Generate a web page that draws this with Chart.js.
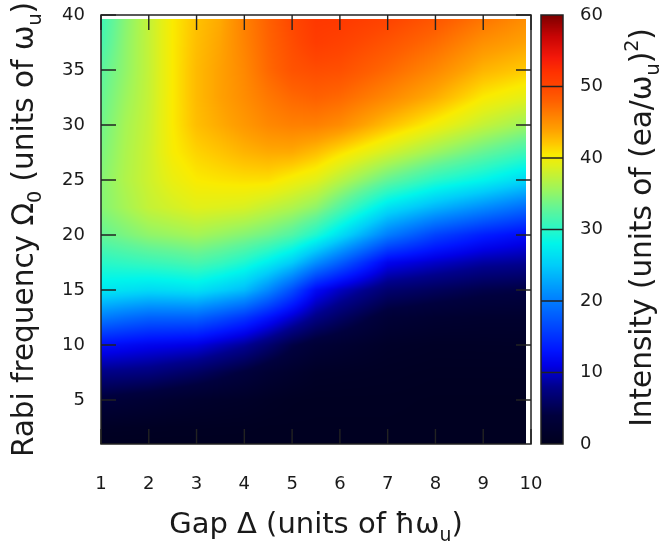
<!DOCTYPE html>
<html>
<head>
<meta charset="utf-8">
<script src="https://cdn.jsdelivr.net/npm/chart.js@4.4.1/dist/chart.umd.min.js"></script>
<style>
  html, body { margin: 0; padding: 0; background: #fff; }
  #wrap { width: 659px; height: 545px; }
</style>
</head>
<body>
<div id="wrap"><canvas id="chart" width="659" height="545"></canvas></div>
<script>
// Grid of the map: gap (columns) and Rabi frequency (rows)
const gap = [1, 1.5, 2, 2.5, 3, 3.5, 4, 4.5, 5, 5.5, 6, 7, 8, 9, 10];
const rabi = [1, 2.5, 5, 7.5, 10, 12.5, 15, 17.5, 20, 22.5, 25, 27.5, 30, 32.5, 35, 37.5, 40];

// Intensity, one row per Rabi frequency (bottom to top)
const intensity = [
  [0.3, 0.3, 0.3, 0.3, 0.3, 0.3, 0.3, 0.3, 0.3, 0.3, 0.3, 0.3, 0.3, 0.3, 0.3],
  [0.9, 0.8, 0.7, 0.6, 0.6, 0.55, 0.5, 0.4, 0.4, 0.4, 0.4, 0.4, 0.35, 0.35, 0.35],
  [3.5, 3.1, 2.7, 2.2, 1.8, 1.5, 1.3, 0.9, 0.6, 0.5, 0.5, 0.5, 0.4, 0.4, 0.4],
  [7.7, 7.5, 7.2, 6.5, 5.8, 4.8, 3.8, 2.6, 1.8, 1.1, 1, 0.8, 0.6, 0.6, 0.6],
  [12.5, 12, 11.5, 11.2, 10.8, 9.6, 8.4, 6.5, 4.4, 3, 2.4, 1.3, 1, 1.05, 1.1],
  [20, 19, 18.2, 18.2, 18.2, 16.8, 15.2, 12.8, 10.2, 7.6, 5.9, 3, 2.3, 2, 2],
  [27, 26.5, 26, 26.2, 26.5, 25.3, 24, 20.8, 16.8, 12, 9.8, 6.5, 5.5, 4.6, 4.2],
  [30, 30.4, 30.8, 31.2, 31.7, 30.8, 29.5, 27.5, 25, 21.2, 18, 11.5, 10, 8.7, 8.2],
  [33, 34, 35, 35.5, 36, 35.3, 34.5, 33.5, 32, 29.5, 26.3, 20, 16, 13.6, 12],
  [34.5, 36, 37.5, 38.3, 39, 38.8, 38.5, 37.5, 36.5, 35, 32.2, 26.5, 23.5, 21, 18.5],
  [34.5, 36.5, 38, 39.5, 40.5, 40.8, 41, 41, 40, 39, 37, 33, 30, 28, 25.5],
  [34, 36.3, 38, 40.3, 41.5, 42.2, 43, 43.5, 43.5, 42.5, 41, 38.2, 35.5, 33, 30.7],
  [33.5, 36, 37.8, 40.5, 42.5, 43.5, 44.5, 45.5, 46, 46, 45.3, 42.5, 40, 37.5, 35.4],
  [33, 35.5, 37.6, 40.5, 42.7, 44, 45.2, 46.5, 47.5, 48, 47.5, 45.5, 43.3, 40.5, 39],
  [32.5, 35, 37.5, 40.5, 42.7, 44, 45.5, 47.5, 49, 49.5, 49.3, 47.5, 45.5, 43, 41.8],
  [31.5, 34.8, 37.5, 40.5, 42.5, 43.8, 45.8, 47.8, 49.5, 51, 50.5, 49, 47.3, 45, 43.8],
  [31, 34.5, 37.5, 40.5, 42.3, 43.5, 46, 48, 50, 51.5, 51.5, 50.5, 49, 47, 45.2]
];

// the image stops a little short of the frame
const gapExtent = [1, 9.9];
const rabiExtent = [1, 39.6];

const gapTicks = [1, 2, 3, 4, 5, 6, 7, 8, 9, 10];
const rabiTicks = [5, 10, 15, 20, 25, 30, 35, 40];
const intensityTicks = [0, 10, 20, 30, 40, 50, 60];

const xTitle = [{ text: 'Gap Δ (units of ħω' }, { text: 'u', sub: true }, { text: ')' }];
const yTitle = [{ text: 'Rabi frequency Ω' }, { text: '0', sub: true }, { text: ' (units of ω' }, { text: 'u', sub: true }, { text: ')' }];
const cbTitle = [{ text: 'Intensity (units of (ea/ω' }, { text: 'u', sub: true }, { text: ')' }, { text: '2', sup: true }, { text: ')' }];

// jet-like palette of the colour box
const cmapStops = [0, 4, 8, 11, 13, 17, 21, 25, 28, 30, 33, 36, 39, 40.5, 42, 44, 46, 48, 50, 52, 54, 57, 60];
const cmapColors = [
  [0, 0, 30], [0, 0, 62], [0, 0, 140], [0, 0, 230], [0, 20, 255], [0, 80, 255],
  [0, 140, 255], [0, 205, 250], [0, 245, 235], [40, 248, 200], [100, 245, 150],
  [165, 245, 85], [225, 240, 25], [250, 235, 0], [255, 200, 0], [255, 160, 0],
  [255, 128, 0], [255, 96, 0], [255, 70, 0], [255, 50, 0], [245, 25, 10],
  [200, 5, 5], [125, 0, 0]
];

const FONT = "'DejaVu Sans', Verdana, sans-serif";
const INK = '#1a1a1a';

function colorFor(v) {
  if (v <= cmapStops[0]) return cmapColors[0];
  for (let i = 1; i < cmapStops.length; i++) {
    if (v <= cmapStops[i]) {
      const t = (v - cmapStops[i - 1]) / (cmapStops[i] - cmapStops[i - 1]);
      const a = cmapColors[i - 1], b = cmapColors[i];
      return [a[0] + (b[0] - a[0]) * t, a[1] + (b[1] - a[1]) * t, a[2] + (b[2] - a[2]) * t];
    }
  }
  return cmapColors[cmapColors.length - 1];
}

function locate(arr, v) {
  let i = 0;
  while (i < arr.length - 2 && v > arr[i + 1]) i++;
  const t = (v - arr[i]) / (arr[i + 1] - arr[i]);
  return [i, Math.min(Math.max(t, 0), 1)];
}

function valueAt(g, r) {
  const [i, tx] = locate(gap, g);
  const [j, ty] = locate(rabi, r);
  const v00 = intensity[j][i], v10 = intensity[j][i + 1];
  const v01 = intensity[j + 1][i], v11 = intensity[j + 1][i + 1];
  return (v00 * (1 - tx) + v10 * tx) * (1 - ty) + (v01 * (1 - tx) + v11 * tx) * ty;
}

// map image, pixel by pixel through the chart's own scales
const heatmapPlugin = {
  id: 'heatmap',
  beforeDatasetsDraw(chart) {
    const { ctx, chartArea: a, scales: { x, y } } = chart;
    const w = Math.round(a.right - a.left), h = Math.round(a.bottom - a.top);
    const off = document.createElement('canvas');
    off.width = w; off.height = h;
    const octx = off.getContext('2d');
    const img = octx.createImageData(w, h);
    for (let py = 0; py < h; py++) {
      const r = y.getValueForPixel(a.top + py + 0.5);
      if (r < rabiExtent[0] || r > rabiExtent[1]) continue;
      for (let px = 0; px < w; px++) {
        const g = x.getValueForPixel(a.left + px + 0.5);
        if (g < gapExtent[0] || g > gapExtent[1]) continue;
        const c = colorFor(valueAt(g, r));
        const k = (py * w + px) * 4;
        img.data[k] = c[0]; img.data[k + 1] = c[1]; img.data[k + 2] = c[2]; img.data[k + 3] = 255;
      }
    }
    octx.putImageData(img, 0, 0);
    ctx.drawImage(off, a.left, a.top);
  }
};

function drawRich(ctx, parts, size) {
  const items = parts.map(p => {
    const s = (p.sub || p.sup) ? size * 0.65 : size;
    ctx.font = `${s}px ${FONT}`;
    return { ...p, s, w: ctx.measureText(p.text).width };
  });
  const total = items.reduce((acc, it) => acc + it.w, 0);
  let cx = -total / 2;
  items.forEach(it => {
    ctx.font = `${it.s}px ${FONT}`;
    const dy = it.sub ? size * 0.28 : it.sup ? -size * 0.45 : 0;
    ctx.fillText(it.text, cx, dy);
    cx += it.w;
  });
}

// frame, inward ticks, colour box and axis titles
const decorPlugin = {
  id: 'decor',
  afterDraw(chart) {
    const { ctx, chartArea: a, scales: { x, y, cb } } = chart;
    ctx.save();

    // colour box
    const boxL = a.right + 10, boxW = 22;
    for (let py = Math.floor(cb.top); py < cb.bottom; py++) {
      const c = colorFor(cb.getValueForPixel(py + 0.5));
      ctx.fillStyle = `rgb(${c[0] | 0},${c[1] | 0},${c[2] | 0})`;
      ctx.fillRect(boxL, py, boxW, 1);
    }
    ctx.strokeStyle = '#222';
    ctx.lineWidth = 1.5;
    intensityTicks.slice(1, -1).forEach(v => {
      const py = cb.getPixelForValue(v);
      ctx.beginPath(); ctx.moveTo(boxL, py); ctx.lineTo(boxL + boxW, py); ctx.stroke();
    });
    ctx.strokeRect(boxL, cb.top, boxW, cb.bottom - cb.top);

    // frame and ticks
    ctx.strokeStyle = '#222';
    ctx.lineWidth = 1.5;
    ctx.strokeRect(a.left, a.top, a.right - a.left, a.bottom - a.top);
    const len = 15;
    ctx.lineWidth = 1.4;
    gapTicks.forEach(v => {
      const px = x.getPixelForValue(v);
      ctx.beginPath();
      ctx.moveTo(px, a.bottom); ctx.lineTo(px, a.bottom - len);
      ctx.moveTo(px, a.top); ctx.lineTo(px, a.top + len);
      ctx.stroke();
    });
    rabiTicks.forEach(v => {
      const py = y.getPixelForValue(v);
      ctx.beginPath();
      ctx.moveTo(a.left, py); ctx.lineTo(a.left + len, py);
      ctx.moveTo(a.right, py); ctx.lineTo(a.right - len, py);
      ctx.stroke();
    });

    // titles
    ctx.fillStyle = INK;
    ctx.textBaseline = 'alphabetic';
    ctx.textAlign = 'left';
    const midX = (a.left + a.right) / 2, midY = (a.top + a.bottom) / 2;

    ctx.save();
    ctx.translate(midX, 533);
    drawRich(ctx, xTitle, 29);
    ctx.restore();

    ctx.save();
    ctx.translate(33, midY);
    ctx.rotate(-Math.PI / 2);
    drawRich(ctx, yTitle, 29.5);
    ctx.restore();

    ctx.save();
    ctx.translate(651, midY - 2);
    ctx.rotate(-Math.PI / 2);
    drawRich(ctx, cbTitle, 29.5);
    ctx.restore();

    ctx.restore();
  }
};

const tickFont = { family: FONT, size: 18 };
// invisible tick marks only push the labels away from the axis
const hiddenTicks = len => ({ display: true, drawOnChartArea: false, drawTicks: true, tickLength: len, color: 'rgba(0,0,0,0)' });

const points = [];
rabi.forEach((r, j) => gap.forEach((g, i) => points.push({ x: g, y: r, v: intensity[j][i] })));

new Chart(document.getElementById('chart'), {
  type: 'scatter',
  data: { datasets: [{ data: points, pointRadius: 0, pointHoverRadius: 0 }] },
  options: {
    responsive: false,
    animation: false,
    events: [],
    layout: { padding: { top: 15, right: 38, bottom: 0, left: 0 } },
    plugins: { legend: { display: false }, tooltip: { enabled: false } },
    scales: {
      x: {
        type: 'linear', min: 1, max: 10,
        afterBuildTicks: s => { s.ticks = gapTicks.map(v => ({ value: v })); },
        afterFit: s => { s.height = 101; },
        grid: hiddenTicks(28), border: { display: false },
        ticks: { font: tickFont, color: INK, padding: 2, maxRotation: 0, autoSkip: false }
      },
      y: {
        type: 'linear', min: 1, max: 40,
        afterBuildTicks: s => { s.ticks = rabiTicks.map(v => ({ value: v })); },
        afterFit: s => { s.width = 101; },
        grid: hiddenTicks(14), border: { display: false },
        ticks: { font: tickFont, color: INK, padding: 2, autoSkip: false }
      },
      cb: {
        type: 'linear', axis: 'y', position: 'right', min: 0, max: 60,
        afterBuildTicks: s => { s.ticks = intensityTicks.map(v => ({ value: v })); },
        afterFit: s => { s.width = 90; },
        grid: hiddenTicks(47), border: { display: false },
        ticks: { font: tickFont, color: INK, padding: 2, autoSkip: false }
      }
    }
  },
  plugins: [heatmapPlugin, decorPlugin]
});
</script>
</body>
</html>
